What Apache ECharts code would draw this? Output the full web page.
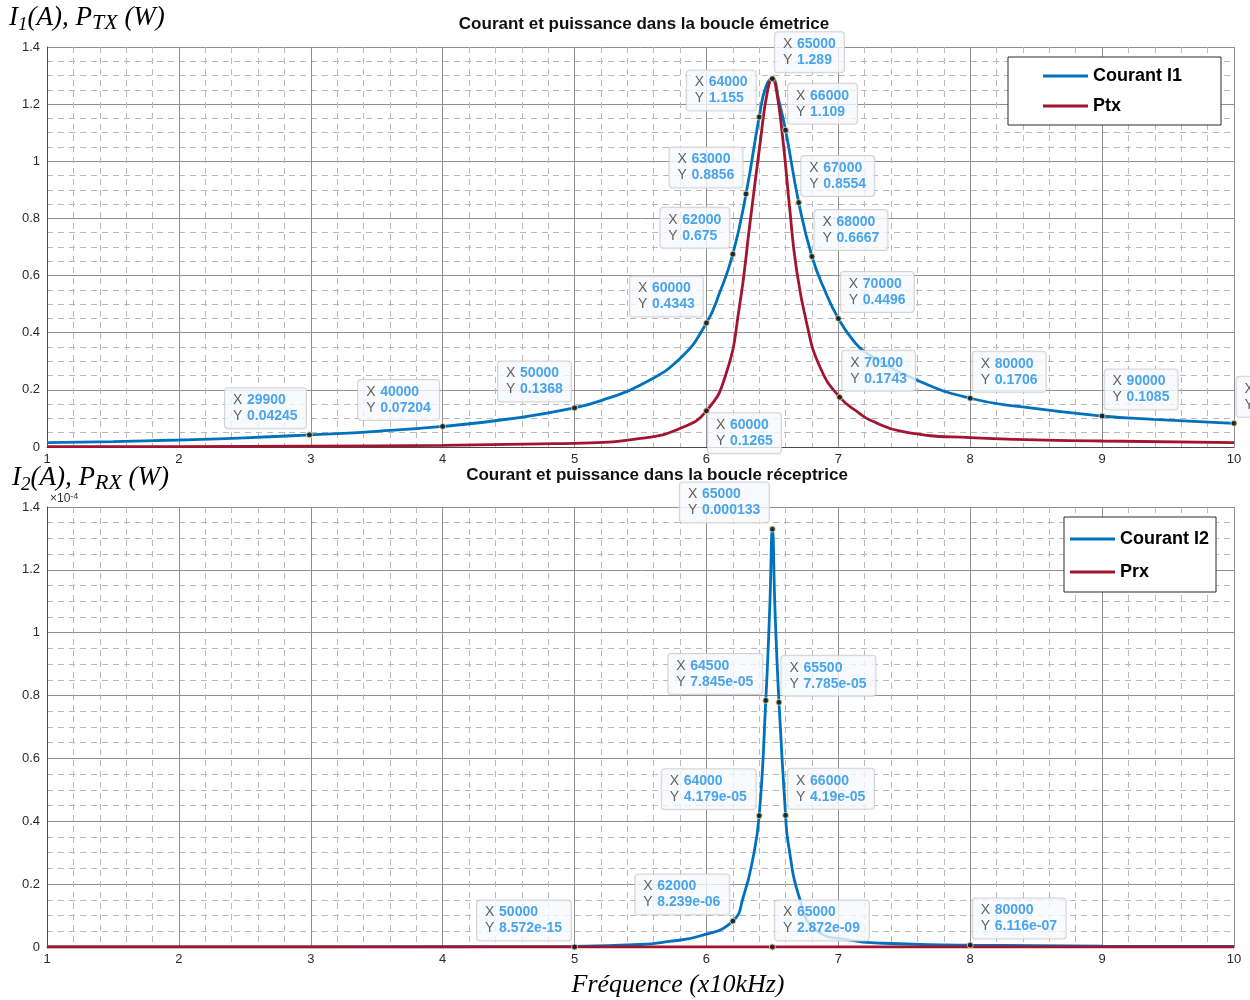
<!DOCTYPE html>
<html>
<head>
<meta charset="utf-8">
<script src="https://cdn.jsdelivr.net/npm/echarts@6/dist/echarts.min.js"></script>
<style>
  html, body { margin: 0; padding: 0; background: #fff; }
  #chart { width: 1250px; height: 1000px; }
</style>
</head>
<body>
<div id="chart"></div>
<script>
// --- data (frequencies in Hz) ---
const freqI1 = [10000, 15000, 20000, 25000, 29900, 35000, 40000, 45000, 50000, 52500, 55000, 58000, 60000, 61000, 62000, 63000, 64000, 64500, 65000, 65500, 66000, 67000, 68000, 69000, 70000, 71100, 72100, 76200, 80000, 83800, 90000, 93900, 100000]
const valI1 = [0.015, 0.019, 0.0245, 0.032, 0.04245, 0.055, 0.07204, 0.098, 0.1368, 0.17, 0.217, 0.31, 0.4343, 0.54, 0.675, 0.8856, 1.155, 1.26, 1.289, 1.21, 1.109, 0.8554, 0.6667, 0.545, 0.4496, 0.3745, 0.33, 0.229, 0.1706, 0.141, 0.1085, 0.097, 0.083]

const freqPtx = [10000, 20000, 30000, 40000, 47400, 50000, 55000, 58000, 60000, 61500, 62500, 63300, 64100, 64600, 65000, 65300, 65800, 66300, 66800, 67600, 68600, 70100, 71600, 72400, 74900, 80000, 90000, 100000]
const valPtx = [0.001, 0.0015, 0.003, 0.006, 0.011, 0.013, 0.03, 0.065, 0.1265, 0.258, 0.491, 0.783, 1.0745, 1.238, 1.289, 1.25, 1.0745, 0.841, 0.631, 0.433, 0.281, 0.1743, 0.118, 0.0945, 0.0536, 0.0327, 0.021, 0.015]

const freqI2 = [10000, 30000, 50000, 55000, 57000, 59500, 62000, 62800, 63500, 64000, 64500, 64800, 65000, 65200, 65500, 66000, 66200, 67100, 68300, 70900, 73400, 80000, 90000, 100000]
const valI2 = [1e-8, 5e-8, 2.3e-7, 8e-7, 1.7e-6, 3.5e-6, 8.239e-6, 1.6e-5, 2.77e-5, 4.179e-5, 7.845e-5, 1.08e-4, 1.33e-4, 1.07e-4, 7.785e-5, 4.19e-5, 3.3e-5, 1.5e-5, 5.4e-6, 2.2e-6, 1.2e-6, 6.116e-7, 3e-7, 2e-7]

const freqPrx = [10000, 50000, 62000, 64000, 65000, 66000, 70000, 80000, 100000]
const valPrx = [2e-17, 8.572e-15, 1.1e-11, 2.8e-10, 2.872e-9, 2.8e-10, 8e-13, 6e-14, 6e-15]

// data tips
const tipFreqI1 = [29900, 40000, 50000, 60000, 62000, 63000, 64000, 65000, 66000, 67000, 68000, 70000, 80000, 90000, 100000]
const tipValI1 = [0.04245, 0.07204, 0.1368, 0.4343, 0.675, 0.8856, 1.155, 1.289, 1.109, 0.8554, 0.6667, 0.4496, 0.1706, 0.1085, 0.0831]
const tipFreqPtx = [60000, 70100]
const tipValPtx = [0.1265, 0.1743]
const tipFreqI2 = [62000, 64000, 64500, 65000, 65500, 66000, 80000]
const tipValI2 = [8.239e-6, 4.179e-5, 7.845e-5, 0.000133, 7.785e-5, 4.19e-5, 6.116e-7]
const tipFreqPrx = [50000, 65000]
const tipValPrx = [8.572e-15, 2.872e-9]

const xTicks = [1, 2, 3, 4, 5, 6, 7, 8, 9, 10]

// --- styling ---
const BLUE = '#0072BD'
const RED = '#A2142F'
const SANS = '"Liberation Sans", Arial, Helvetica, sans-serif'
const SERIF = '"Liberation Serif", "Times New Roman", serif'

// matlab-ish %.4g
function g4(v) {
  const strip = s => s.indexOf('.') >= 0 ? s.replace(/0+$/, '').replace(/\.$/, '') : s
  if (v === 0) return '0'
  const e = Math.floor(Math.log10(Math.abs(v)))
  if (e < -4 || e >= 5) {
    const [m, ex] = v.toExponential(3).split('e')
    const n = Math.abs(+ex)
    return strip(m) + 'e' + (+ex < 0 ? '-' : '+') + (n < 10 ? '0' + n : n)
  }
  return strip(v.toPrecision(4))
}

const measure = document.createElement('canvas').getContext('2d')
function boldWidth(s) {
  measure.font = 'bold 14px ' + SANS
  return Math.ceil(measure.measureText(s).width)
}

function tipLabel(side, xs, ys) {
  // both lines get the same width so the text stays left-aligned in the box
  const w = Math.max(boldWidth(xs), boldWidth(ys))
  const base = {
    show: true,
    backgroundColor: '#f8f9fc',
    borderColor: '#c9c9cc',
    borderWidth: 1,
    borderRadius: 3,
    padding: [4, 8],
    fontSize: 14,
    fontFamily: SANS,
    lineHeight: 16,
    formatter: `{k|X }{v|${xs}}\n{k|Y }{v|${ys}}`,
    rich: {
      k: { color: '#3a3a3a', fontSize: 14, fontFamily: SANS, lineHeight: 16, width: 14, align: 'left' },
      v: { color: '#1a8fe8', fontSize: 14, fontFamily: SANS, fontWeight: 'bold', lineHeight: 16, width: w, align: 'left' },
    },
  }
  if (side === 'L') return { ...base, position: [0, -3], align: 'right', verticalAlign: 'bottom' }
  if (side === 'RB') return { ...base, position: [5, 6], align: 'left', verticalAlign: 'top' }
  return { ...base, position: [6, -3], align: 'left', verticalAlign: 'bottom' }
}

function tipSeries(freqs, vals, xi, scale, sideOf) {
  return {
    type: 'scatter',
    xAxisIndex: xi, yAxisIndex: xi,
    symbol: 'circle', symbolSize: 6,
    itemStyle: { color: '#151515', borderColor: '#e9e2a6', borderWidth: 1 },
    silent: true, z: 5,
    data: freqs.map((f, i) => ({
      value: [f / 1e4, vals[i] / scale],
      label: tipLabel(sideOf(f), String(f), g4(vals[i])),
    })),
  }
}

function lineSeries(name, freqs, vals, xi, scale, color) {
  return {
    name, type: 'line', xAxisIndex: xi, yAxisIndex: xi,
    data: freqs.map((f, i) => [f / 1e4, vals[i] / scale]),
    smooth: 0.5, symbol: 'none',
    lineStyle: { color, width: 2.8 }, itemStyle: { color },
    silent: true,
  }
}

function xAxis(gi) {
  return {
    type: 'value', gridIndex: gi, min: xTicks[0], max: xTicks[xTicks.length - 1], interval: 1,
    axisLine: { show: true, lineStyle: { color: '#4a4a4a', width: 1 } },
    axisTick: { show: false },
    minorTick: { show: true, splitNumber: 5, length: 0 },
    axisLabel: { color: '#2a2a2a', fontSize: 13, fontFamily: SANS, margin: 6, showMinLabel: true, showMaxLabel: true },
    splitLine: { show: true, lineStyle: { color: '#8f8f8f', width: 1 } },
    minorSplitLine: { show: true, lineStyle: { color: '#b9b9b9', width: 1, type: [6, 5] } },
  }
}

function yAxis(gi, fmt) {
  return {
    type: 'value', gridIndex: gi, min: 0, max: 1.4, interval: 0.2,
    axisLine: { show: true, lineStyle: { color: '#4a4a4a', width: 1 } },
    axisTick: { show: false },
    minorTick: { show: true, splitNumber: 4, length: 0 },
    axisLabel: { color: '#2a2a2a', fontSize: 13, fontFamily: SANS, margin: 7, formatter: fmt },
    splitLine: { show: true, lineStyle: { color: '#8f8f8f', width: 1 } },
    minorSplitLine: { show: true, lineStyle: { color: '#b9b9b9', width: 1, type: [6, 5] } },
  }
}

const yFmt = v => String(Math.round(v * 10) / 10)

const nameRich = {
  i: { fontSize: 27, fontFamily: SERIF, fontStyle: 'italic', fill: '#000', lineHeight: 32 },
  n: { fontSize: 19, fontFamily: SERIF, fontStyle: 'italic', fill: '#000', lineHeight: 30, verticalAlign: 'bottom' },
  s: { fontSize: 22, fontFamily: SERIF, fontStyle: 'italic', fill: '#000', lineHeight: 14, verticalAlign: 'bottom' },
}

function legend(names, left, top, padding, gap) {
  return {
    data: names, orient: 'vertical', left, top, padding, itemGap: gap,
    icon: 'rect', itemWidth: 45, itemHeight: 3, selectedMode: false,
    backgroundColor: '#fff', borderColor: '#2a2a2a', borderWidth: 1,
    textStyle: { fontSize: 18, fontWeight: 'bold', color: '#000', fontFamily: SANS, lineHeight: 20 },
  }
}

const chart = echarts.init(document.getElementById('chart'))
chart.setOption({
  animation: false,
  backgroundColor: '#fff',
  grid: [
    { left: 47, right: 16, top: 47, height: 400 },
    { left: 47, right: 16, top: 507, height: 440 },
  ],
  xAxis: [xAxis(0), xAxis(1)],
  yAxis: [yAxis(0, yFmt), yAxis(1, yFmt)],
  legend: [
    legend(['Courant I1', 'Ptx'], 1008, 57, [9, 39, 9, 35], 10),
    legend(['Courant I2', 'Prx'], 1064, 517, [12, 7, 10, 6], 13),
  ],
  series: [
    lineSeries('Courant I1', freqI1, valI1, 0, 1, BLUE),
    lineSeries('Ptx', freqPtx, valPtx, 0, 1, RED),
    lineSeries('Courant I2', freqI2, valI2, 1, 1e-4, BLUE),
    lineSeries('Prx', freqPrx, valPrx, 1, 1e-4, RED),
    tipSeries(tipFreqI1, tipValI1, 0, 1, f => f < 65000 ? 'L' : 'R'),
    tipSeries(tipFreqPtx, tipValPtx, 0, 1, f => f === 60000 ? 'RB' : 'R'),
    tipSeries(tipFreqI2, tipValI2, 1, 1e-4, f => f <= 65000 ? 'L' : 'R'),
    tipSeries(tipFreqPrx, tipValPrx, 1, 1e-4, f => f < 60000 ? 'L' : 'R'),
  ],
  graphic: [
    { type: 'text', silent: true, style: { x: 9, y: 18, textVerticalAlign: 'middle', text: '{i|I}{n|1}{i|(A), P}{s|TX}{i| (W)}', rich: nameRich } },
    { type: 'text', silent: true, style: { x: 12, y: 478, textVerticalAlign: 'middle', text: '{i|I}{n|2}{i|(A), P}{s|RX}{i| (W)}', rich: nameRich } },
    {
      type: 'text', silent: true,
      style: {
        x: 50, y: 499, textVerticalAlign: 'middle', text: '{a|×10}{e|-4}',
        rich: {
          a: { fontSize: 12, fontFamily: SANS, fill: '#333', lineHeight: 14 },
          e: { fontSize: 9, fontFamily: SANS, fill: '#333', lineHeight: 9, verticalAlign: 'top' },
        },
      },
    },
    { type: 'text', silent: true, style: { x: 644, y: 24, textAlign: 'center', textVerticalAlign: 'middle', text: 'Courant et puissance dans la boucle émetrice', fill: '#111', fontSize: 17, fontWeight: 'bold', fontFamily: SANS } },
    { type: 'text', silent: true, style: { x: 657, y: 475, textAlign: 'center', textVerticalAlign: 'middle', text: 'Courant et puissance dans la boucle réceptrice', fill: '#111', fontSize: 17, fontWeight: 'bold', fontFamily: SANS } },
    { type: 'text', silent: true, style: { x: 678, y: 985, textAlign: 'center', textVerticalAlign: 'middle', text: 'Fréquence (x10kHz)', fill: '#000', fontSize: 26, fontStyle: 'italic', fontFamily: SERIF } },
  ],
})
</script>
</body>
</html>
